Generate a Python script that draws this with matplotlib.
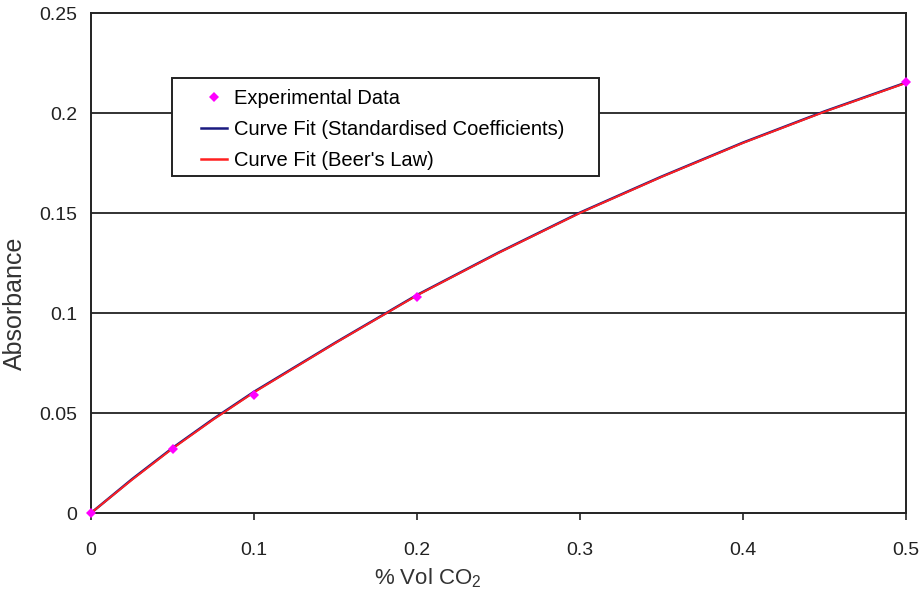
import matplotlib
matplotlib.use("Agg")
import matplotlib.pyplot as plt
from matplotlib.lines import Line2D
from matplotlib.patches import Rectangle

plt.rcParams['font.family'] = ['Liberation Sans', 'DejaVu Sans']
plt.rcParams['mathtext.fontset'] = 'custom'
plt.rcParams['mathtext.rm'] = 'Liberation Sans'
plt.rcParams['mathtext.it'] = 'Liberation Sans'

# Experimental data
exp_x = [0.0, 0.05, 0.1, 0.2, 0.5]
exp_y = [0.0, 0.032, 0.059, 0.108, 0.2155]

# Curve fits
fit_x = [0.0, 0.025, 0.05, 0.075, 0.1, 0.15, 0.2, 0.25, 0.3, 0.35, 0.4, 0.45, 0.5]
fit_std_y = [0.0, 0.0168, 0.0325, 0.0470, 0.0606, 0.0852, 0.1090, 0.1302, 0.1502, 0.1682, 0.1852, 0.2008, 0.2152]
fit_beer_y = [0.0, 0.0165, 0.0322, 0.0467, 0.0603, 0.0850, 0.1088, 0.1300, 0.1500, 0.1680, 0.1850, 0.2006, 0.2150]

x_ticks = [0, 0.1, 0.2, 0.3, 0.4, 0.5]
x_tick_labels = ['0', '0.1', '0.2', '0.3', '0.4', '0.5']
y_ticks = [0, 0.05, 0.1, 0.15, 0.2, 0.25]
y_tick_labels = ['0', '0.05', '0.1', '0.15', '0.2', '0.25']

W, H = 921, 600
fig = plt.figure(figsize=(9.21, 6.0), dpi=100)
L, R, T, B = 91, 906, 13, 513
ax = fig.add_axes([L/W, (H-B)/H, (R-L)/W, (B-T)/H])

def axc(px, py):
    return ((px - L) / (R - L), (B - py) / (B - T))

for yv in y_ticks[1:-1]:
    ax.axhline(yv, color='#222222', lw=1.3, zorder=1)

ax.plot(fit_x, fit_std_y, color='#1a1a80', lw=1.8, zorder=3)
ax.plot(fit_x, fit_beer_y, color='#ff2020', lw=1.4, zorder=4)
ax.plot(exp_x, exp_y, linestyle='none', marker='D', ms=5, color='#ff00ff',
        markeredgewidth=0, zorder=5, clip_on=False)

ax.set_xlim(0, 0.5)
ax.set_ylim(0, 0.25)
ax.set_xticks(x_ticks)
ax.set_xticklabels(x_tick_labels)
ax.set_yticks(y_ticks)
ax.set_yticklabels(y_tick_labels)
ax.tick_params(axis='x', direction='out', length=5, width=1.2, pad=16, labelsize=14, colors='#222222')
ax.tick_params(axis='y', length=0, pad=10, labelsize=14, colors='#222222')
for sp in ax.spines.values():
    sp.set_linewidth(1.4)
    sp.set_color('#222222')

ax.set_xlabel('% Vol CO$_2$', fontsize=16, color='#333333')
ax.xaxis.set_label_coords(*axc(428, 566))
ax.set_ylabel('Absorbance', fontsize=18, color='#333333')
ax.yaxis.set_label_coords(*axc(27, 303))

# legend frame
x0, y0 = axc(172, 176)
x1, y1 = axc(599, 78)
ax.add_patch(Rectangle((x0, y0), x1 - x0, y1 - y0, transform=ax.transAxes,
                       facecolor='white', edgecolor='#222222', lw=1.4, zorder=9, clip_on=False))

handles = [
    Line2D([], [], linestyle='none', marker='D', ms=5, color='#ff00ff', markeredgewidth=0),
    Line2D([], [], color='#1a1a80', lw=1.8),
    Line2D([], [], color='#ff2020', lw=1.8),
]
labels = ['Experimental Data', 'Curve Fit (Standardised Coefficients)', 'Curve Fit (Beer\'s Law)']
ax_anchor = axc(201, 89)
leg = ax.legend(handles, labels, loc='upper left', bbox_to_anchor=ax_anchor,
                fontsize=14.5, frameon=False,
                handlelength=1.3, handletextpad=0.35, borderpad=0.0, labelspacing=0.6,
                borderaxespad=0)
leg.set_zorder(10)

fig.savefig('out.png', dpi=100, facecolor='white')
